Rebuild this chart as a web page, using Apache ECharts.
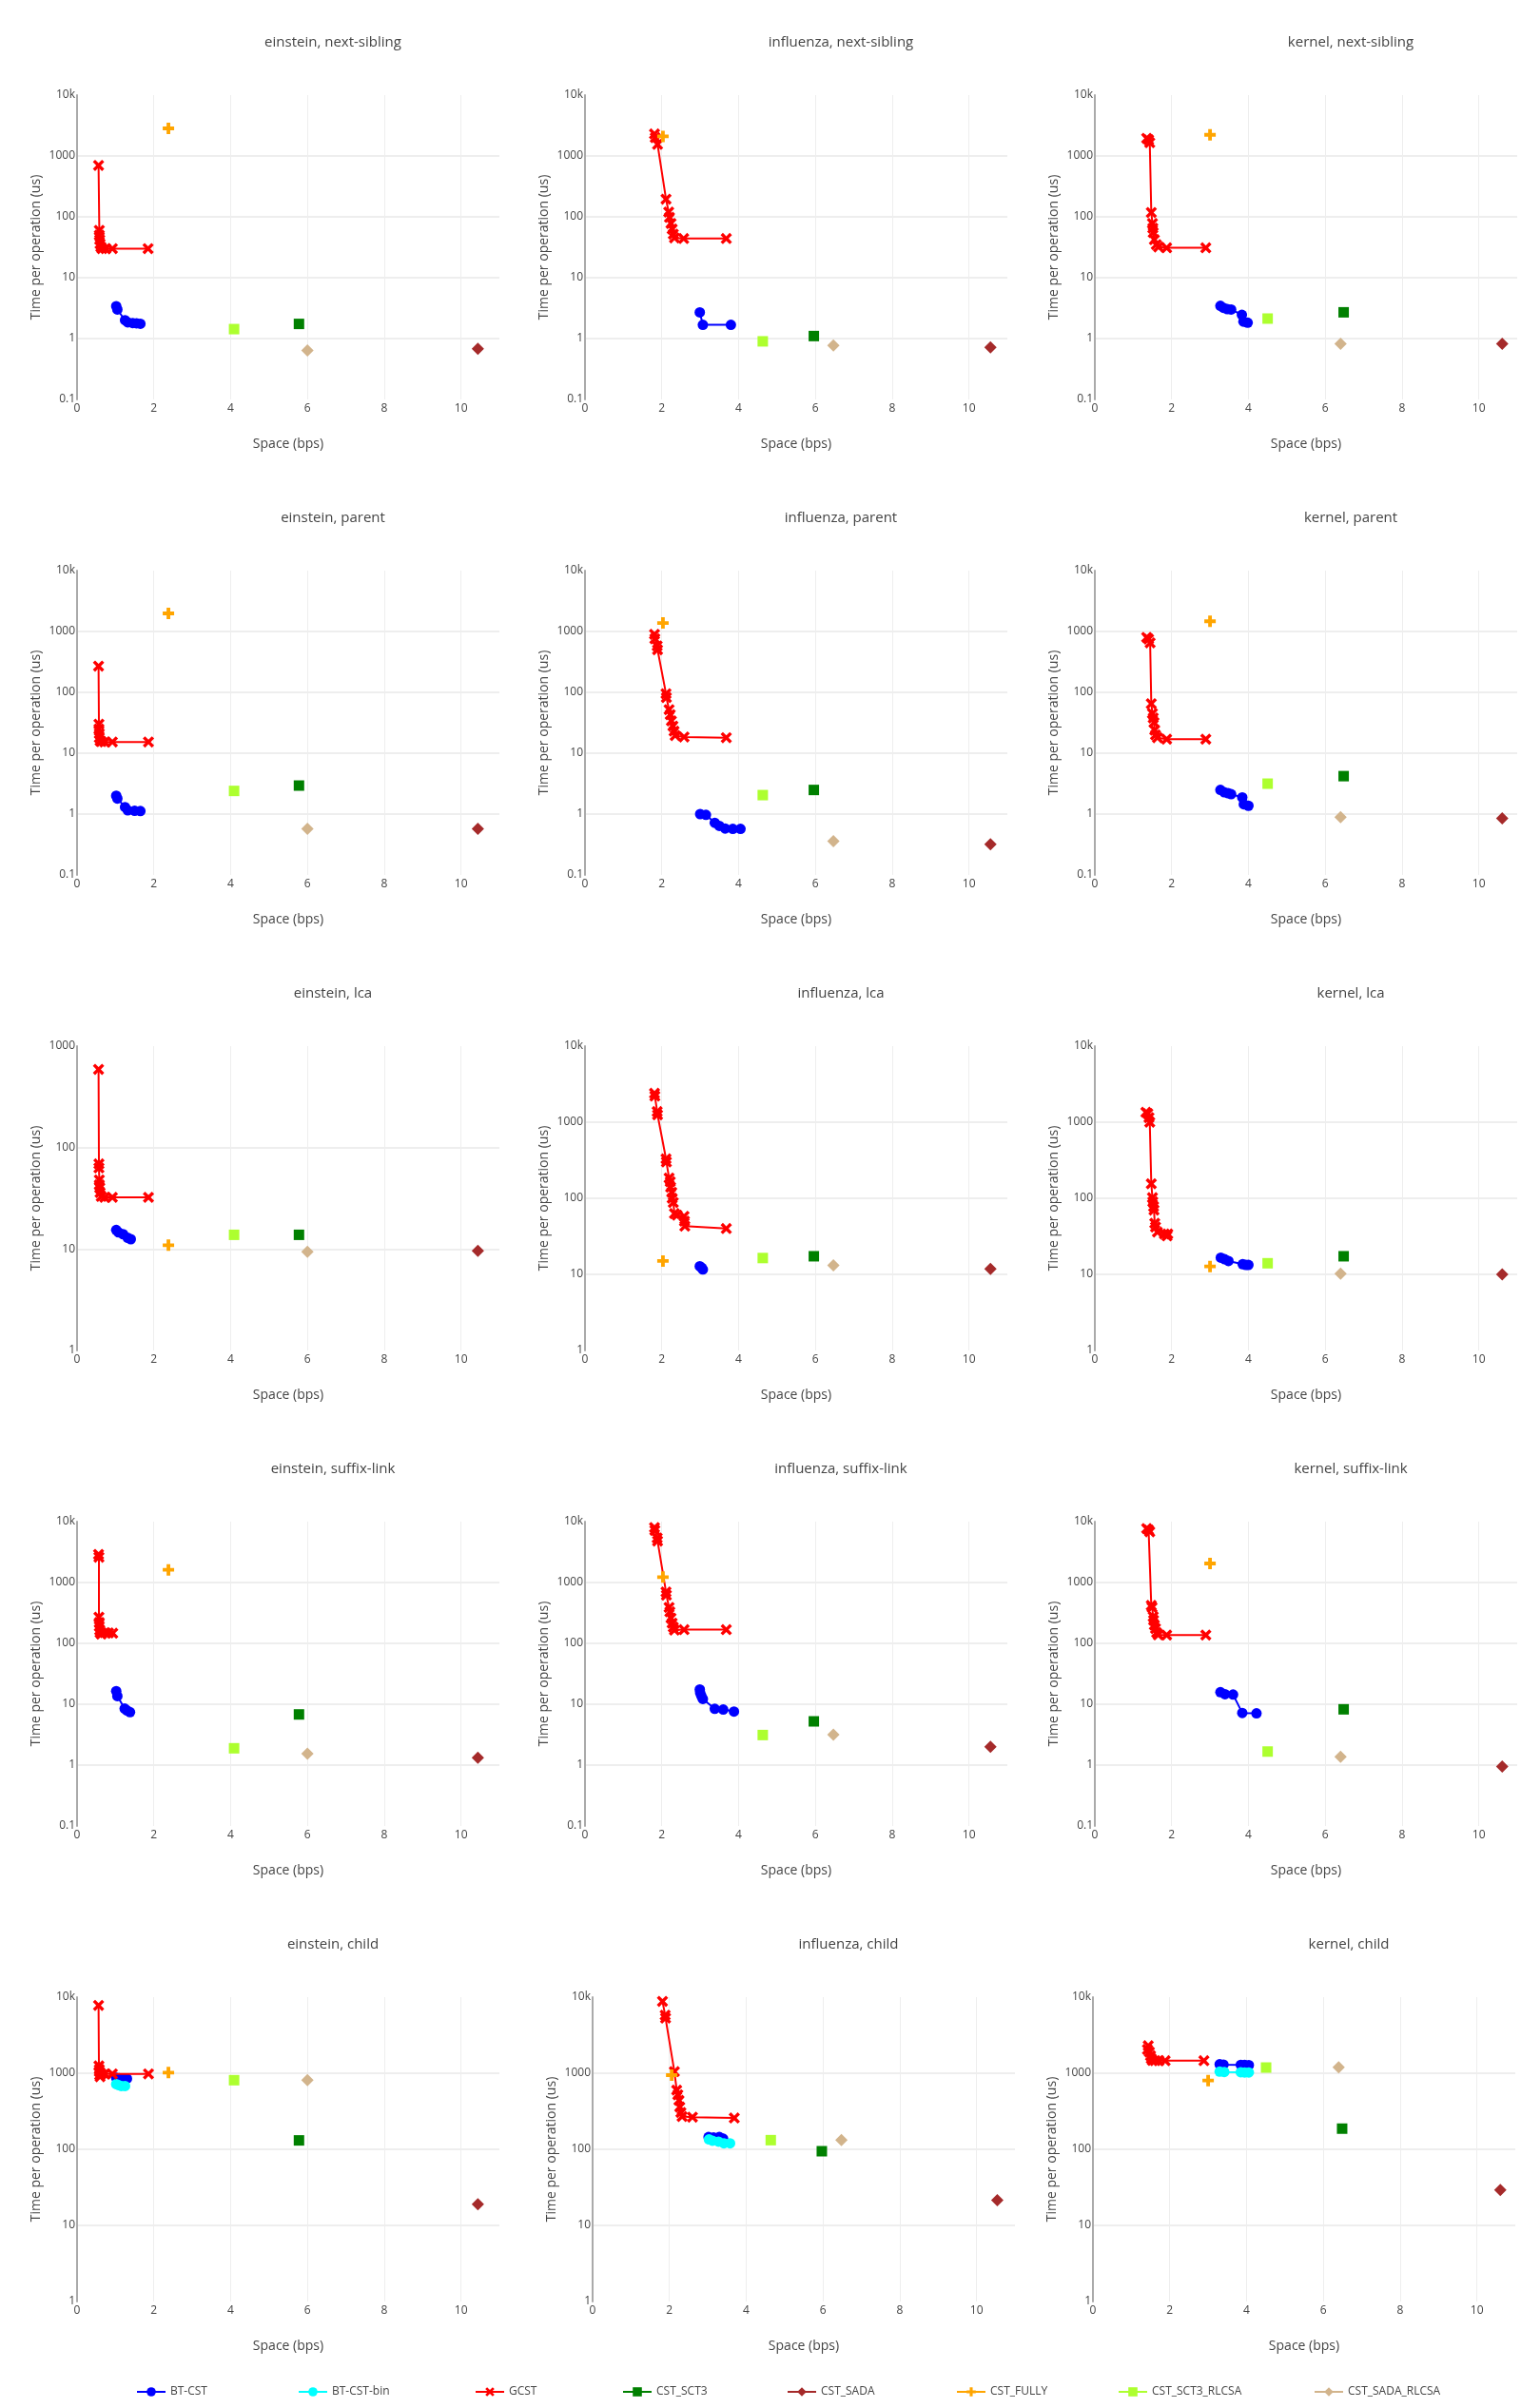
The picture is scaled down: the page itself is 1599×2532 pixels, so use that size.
<!DOCTYPE html>
<html><head><meta charset="utf-8">
<script src="https://cdn.jsdelivr.net/npm/echarts@6/dist/echarts.min.js"></script>
<style>html,body{margin:0;padding:0;background:#fff}#c{width:1599px;height:2532px}</style>
</head><body><div id="c"></div>
<script>
// ---------- DATA ----------
const panelTitles = [
  'einstein, next-sibling','influenza, next-sibling','kernel, next-sibling',
  'einstein, parent','influenza, parent','kernel, parent',
  'einstein, lca','influenza, lca','kernel, lca',
  'einstein, suffix-link','influenza, suffix-link','kernel, suffix-link',
  'einstein, child','influenza, child','kernel, child'
];
const yMinValues = [0.1,0.1,0.1, 0.1,0.1,0.1, 1,1,1, 0.1,0.1,0.1, 1,1,1];
const yMaxValues = [10000,10000,10000, 10000,10000,10000, 1000,10000,10000, 10000,10000,10000, 10000,10000,10000];
const xMinValue = 0, xMaxValue = 11, xTickStep = 2;
const xAxisTitle = 'Space (bps)';
const yAxisTitle = 'Time per operation (us)';

const BT_CST = [
  [[1.02,3.4],[1.05,3.0],[1.25,2.0],[1.32,1.85],[1.45,1.8],[1.55,1.78],[1.65,1.75]],
  [[2.99,2.7],[3.07,1.68],[3.8,1.68]],
  [[3.27,3.45],[3.35,3.2],[3.45,3.05],[3.55,3.0],[3.83,2.45],[3.87,1.9],[3.98,1.82]],
  [[1.02,2.0],[1.05,1.8],[1.25,1.3],[1.32,1.15],[1.5,1.13],[1.65,1.12]],
  [[3.0,1.0],[3.15,0.97],[3.38,0.72],[3.5,0.64],[3.65,0.58],[3.85,0.57],[4.05,0.57]],
  [[3.27,2.5],[3.37,2.28],[3.47,2.2],[3.55,2.12],[3.84,1.88],[3.88,1.45],[4.0,1.37]],
  [[1.02,15.4],[1.08,14.6],[1.2,14],[1.32,12.9],[1.4,12.5]],
  [[2.99,12.8],[3.04,12.2],[3.07,11.6]],
  [[3.28,16.6],[3.38,15.8],[3.48,15],[3.85,13.6],[3.93,13.3],[4.0,13.3]],
  [[1.02,16.4],[1.05,13.6],[1.24,8.5],[1.3,7.9],[1.38,7.4]],
  [[2.99,17.5],[3.0,15.4],[3.03,13.7],[3.07,12.2],[3.38,8.4],[3.6,8.2],[3.88,7.6]],
  [[3.27,15.8],[3.39,14.6],[3.6,14.4],[3.84,7.2],[4.21,7.1]],
  [[1.02,870],[1.1,860],[1.2,850],[1.3,850]],
  [[3.02,145],[3.15,143],[3.3,145],[3.4,138]],
  [[3.3,1310],[3.4,1300],[3.85,1290],[3.95,1285],[4.06,1280]]
];
const BT_CST_bin = [
  [],[],[], [],[],[], [],[],[], [],[],[],
  [[1.02,720],[1.08,700],[1.15,680],[1.25,680]],
  [[3.03,135],[3.12,130],[3.28,126],[3.42,120],[3.58,120]],
  [[3.3,1050],[3.42,1040],[3.85,1030],[3.95,1025],[4.06,1025]]
];
const GCST = [
  [[0.56,700],[0.58,60],[0.58,50],[0.59,42],[0.6,36],[0.62,32],[0.65,30],[0.75,30],[0.92,30],[1.85,30]],
  [[1.81,2300],[1.83,2000],[1.89,1550],[2.11,195],[2.18,120],[2.2,98],[2.24,78],[2.27,63],[2.3,52],[2.33,45],[2.57,44],[3.68,44]],
  [[1.35,1950],[1.4,1850],[1.43,1650],[1.47,118],[1.5,78],[1.51,65],[1.52,55],[1.55,42],[1.6,35],[1.66,32],[1.87,31],[2.89,31]],
  [[0.56,270],[0.57,30],[0.57,25],[0.58,21],[0.58,18],[0.6,16],[0.63,15.5],[0.72,15.3],[0.92,15.3],[1.86,15.3]],
  [[1.81,900],[1.82,760],[1.88,580],[1.89,500],[2.11,95],[2.12,82],[2.19,52],[2.22,43],[2.25,34],[2.29,28],[2.32,23],[2.35,19.5],[2.58,18.5],[3.68,18]],
  [[1.35,800],[1.4,750],[1.44,650],[1.47,65],[1.5,45],[1.52,38],[1.54,32],[1.56,24],[1.58,20],[1.63,18],[1.87,17],[2.89,17]],
  [[0.56,590],[0.57,69],[0.57,63],[0.58,48],[0.58,43],[0.59,40],[0.6,36],[0.63,33],[0.72,32.3],[0.92,32.3],[1.86,32.3]],
  [[1.81,2400],[1.82,2200],[1.88,1380],[1.89,1250],[2.11,330],[2.12,300],[2.19,185],[2.22,165],[2.23,140],[2.26,120],[2.27,100],[2.3,88],[2.33,63],[2.4,60],[2.58,58],[2.59,50],[2.6,43],[3.68,40]],
  [[1.33,1350],[1.38,1300],[1.41,1150],[1.43,1000],[1.47,155],[1.5,102],[1.51,90],[1.53,78],[1.54,70],[1.56,47],[1.58,42],[1.63,36],[1.81,34],[1.88,32],[1.9,34]],
  [[0.56,2900],[0.57,2600],[0.57,270],[0.58,220],[0.58,190],[0.59,165],[0.6,150],[0.63,142],[0.72,150],[0.82,148],[0.93,147]],
  [[1.81,8000],[1.82,7200],[1.88,5400],[1.89,4800],[2.11,700],[2.12,620],[2.19,390],[2.21,330],[2.24,260],[2.27,215],[2.3,185],[2.33,165],[2.58,168],[3.68,168]],
  [[1.35,7700],[1.4,7300],[1.43,6800],[1.47,420],[1.49,390],[1.52,275],[1.53,240],[1.55,200],[1.58,175],[1.61,150],[1.65,138],[1.87,137],[2.89,137]],
  [[0.56,7800],[0.57,1250],[0.58,1120],[0.58,1050],[0.59,950],[0.6,900],[0.63,980],[0.72,980],[0.92,980],[1.86,980]],
  [[1.82,8800],[1.89,5800],[1.9,5300],[2.13,1050],[2.19,600],[2.22,520],[2.25,440],[2.27,360],[2.3,305],[2.33,270],[2.6,265],[3.69,258]],
  [[1.44,2300],[1.42,2050],[1.47,1900],[1.5,1700],[1.52,1550],[1.55,1470],[1.62,1460],[1.72,1460],[1.88,1460],[2.89,1460]]
];
const CST_SCT3 = [[5.78,1.74],[5.96,1.1],[6.48,2.7],[5.78,2.94],[5.96,2.49],[6.48,4.2],[5.78,13.8],[5.96,17.3],[6.48,17.3],[5.78,6.8],[5.96,5.23],[6.48,8.25],[5.78,131],[5.97,94.4],[6.49,187]];
const CST_SADA = [[10.44,0.68],[10.56,0.72],[10.61,0.82],[10.44,0.57],[10.56,0.32],[10.61,0.85],[10.44,9.6],[10.56,11.8],[10.61,10.0],[10.44,1.32],[10.56,2.0],[10.61,0.95],[10.44,19.0],[10.54,21.5],[10.61,29.3]];
const CST_FULLY = [[2.38,2840],[2.03,2100],[3.0,2230],[2.38,1980],[2.03,1380],[3.0,1470],[2.38,10.9],[2.03,15.0],[3.0,12.7],[2.38,1616],[2.03,1227],[3.0,2054],[2.38,1020],[2.06,944],[3.0,802]];
const CST_SCT3_RLCSA = [[4.09,1.43],[4.63,0.9],[4.5,2.13],[4.09,2.4],[4.63,2.05],[4.5,3.16],[4.09,13.8],[4.63,16.4],[4.5,14.0],[4.09,1.89],[4.63,3.12],[4.5,1.67],[4.09,810],[4.64,132],[4.51,1188]];
const CST_SADA_RLCSA = [[6.0,0.64],[6.47,0.77],[6.4,0.82],[6.0,0.57],[6.47,0.36],[6.4,0.89],[6.0,9.4],[6.47,13.1],[6.4,10.2],[6.0,1.54],[6.47,3.16],[6.4,1.37],[6.0,810],[6.48,132],[6.4,1200]];

// ---------- STYLE / LAYOUT ----------
const FONT = '"Open Sans", "Liberation Sans", sans-serif';
const TXT = '#444';
const X_PATH = 'path://M0,2L2,0L5,3L8,0L10,2L7,5L10,8L8,10L5,7L2,10L0,8L3,5Z';
const PLUS_PATH = 'path://M3.4,0H6.6V3.4H10V6.6H6.6V10H3.4V6.6H0V3.4H3.4Z';

const seriesDefs = [
  {name:'BT-CST', per:BT_CST, color:'#0000ff', symbol:'circle', size:11},
  {name:'BT-CST-bin', per:BT_CST_bin, color:'#00ffff', symbol:'circle', size:11},
  {name:'GCST', per:GCST, color:'#ff0000', symbol:X_PATH, size:12},
  {name:'CST_SCT3', per:CST_SCT3.map(p=>[p]), color:'#008000', symbol:'rect', size:11},
  {name:'CST_SADA', per:CST_SADA.map(p=>[p]), color:'#a52a2a', symbol:'diamond', size:13},
  {name:'CST_FULLY', per:CST_FULLY.map(p=>[p]), color:'#ffa500', symbol:PLUS_PATH, size:12},
  {name:'CST_SCT3_RLCSA', per:CST_SCT3_RLCSA.map(p=>[p]), color:'#adff2f', symbol:'rect', size:11},
  {name:'CST_SADA_RLCSA', per:CST_SADA_RLCSA.map(p=>[p]), color:'#d2b48c', symbol:'diamond', size:13}
];
const legendIconX = [158, 328, 514, 669, 842, 1020, 1190, 1396];

const colLeft = [81, 615, 1151];
const plotW = 444, plotH = 320, rowTop0 = 100, rowPitch = 500;

const grids = [], xAxes = [], yAxes = [], series = [], graphics = [];
panelTitles.forEach((t, i) => {
  const r = Math.floor(i / 3), c = i % 3;
  let left = colLeft[c];
  if (i === 13) left += 8;
  if (i === 14) left -= 2;
  const top = rowTop0 + rowPitch * r;
  grids.push({left: left, top: top, width: plotW, height: plotH, containLabel: false, outerBoundsMode: 'none'});
  xAxes.push({
    type: 'value', gridIndex: i, min: xMinValue, max: xMaxValue, interval: xTickStep,
    name: xAxisTitle, nameLocation: 'middle', nameGap: 40,
    nameTextStyle: {fontSize: 14, color: TXT, fontFamily: FONT},
    axisLine: {show: false}, axisTick: {show: false},
    axisLabel: {fontSize: 12, color: TXT, fontFamily: FONT, margin: 4, showMaxLabel: false},
    splitLine: {show: true, showMinLine: false, showMaxLine: false, lineStyle: {color: '#eeeeee', width: 1}}
  });
  yAxes.push({
    type: 'log', logBase: 10, gridIndex: i, min: yMinValues[i], max: yMaxValues[i],
    name: yAxisTitle, nameLocation: 'middle', nameGap: 36,
    nameTextStyle: {fontSize: 14, color: TXT, fontFamily: FONT},
    axisLine: {show: true, lineStyle: {color: '#aaaaaa', width: 2}},
    axisTick: {show: false},
    axisLabel: {fontSize: 12, color: TXT, fontFamily: FONT, margin: 2,
      formatter: v => v >= 10000 ? (Math.round(v / 1000)) + 'k' : String(+v.toPrecision(6))},
    splitLine: {show: true, showMinLine: false, showMaxLine: false, lineStyle: {color: '#eeeeee', width: 2}}
  });
  graphics.push({
    type: 'text', x: left + 269, y: top - 55,
    style: {text: t, fill: TXT, font: '15px ' + FONT, align: 'center', verticalAlign: 'middle', textAlign: 'center', textVerticalAlign: 'middle'}
  });
  seriesDefs.forEach((d, k) => {
    const pts = d.per[i];
    if (!pts || !pts.length) return;
    series.push({
      type: 'line', name: d.name, xAxisIndex: i, yAxisIndex: i, data: pts,
      symbol: d.symbol, symbolSize: d.size, showSymbol: true,
      itemStyle: {color: d.color, opacity: 1},
      lineStyle: {color: d.color, width: 2},
      emphasis: {disabled: true}, z: 2 + k, animation: false
    });
  });
});

const legends = seriesDefs.map((d, k) => ({
  data: [d.name], left: legendIconX[k] - 15, top: 2509,
  itemWidth: 30, itemHeight: 12, padding: 0, itemGap: 0,
  textStyle: {fontSize: 12, color: TXT, fontFamily: FONT}
}));

const chart = echarts.init(document.getElementById('c'), null, {renderer: 'canvas'});
chart.setOption({
  backgroundColor: '#ffffff',
  animation: false,
  grid: grids, xAxis: xAxes, yAxis: yAxes, series: series,
  legend: legends, graphic: graphics
});
</script></body></html>
